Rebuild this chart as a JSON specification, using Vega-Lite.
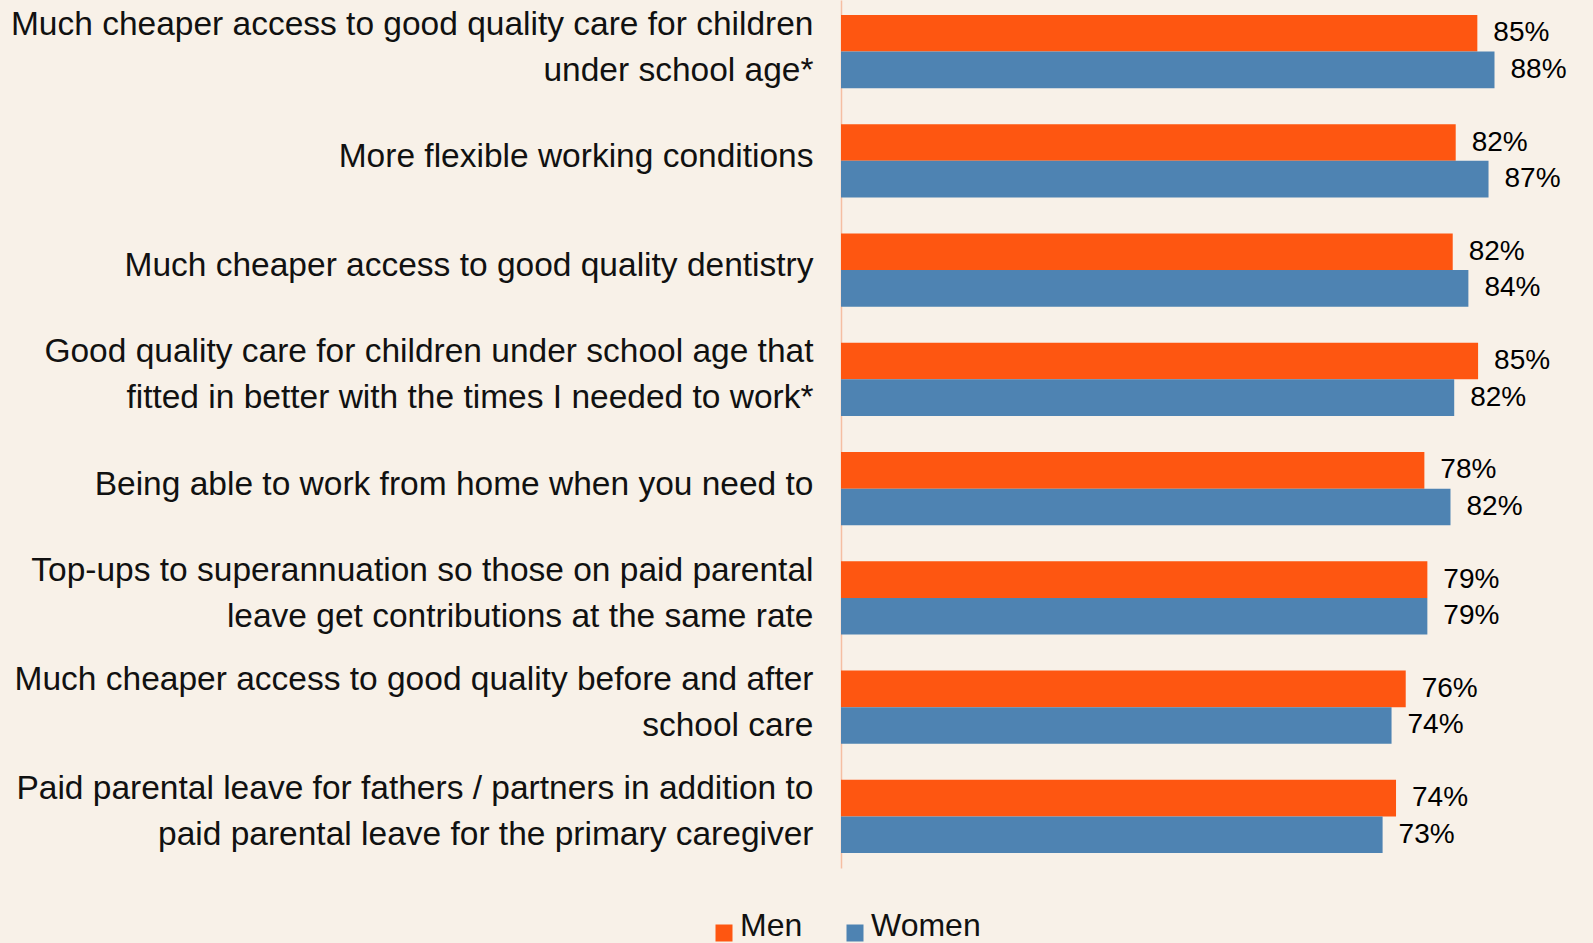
{
  "$schema": "https://vega.github.io/schema/vega-lite/v6.json",
  "width": 746,
  "height": 868,
  "autosize": {"type": "none"},
  "padding": {"left": 841, "top": 0, "right": 6, "bottom": 75},
  "background": "#F8F1E8",
  "config": {"view": {"stroke": null}, "font": "Liberation Sans"},
  "data": {
    "values": [
      {"item": "Much cheaper access to good quality care for children|under school age*", "group": "Men", "pct": 0.853},
      {"item": "Much cheaper access to good quality care for children|under school age*", "group": "Women", "pct": 0.876},
      {"item": "More flexible working conditions", "group": "Men", "pct": 0.824},
      {"item": "More flexible working conditions", "group": "Women", "pct": 0.868},
      {"item": "Much cheaper access to good quality dentistry", "group": "Men", "pct": 0.820},
      {"item": "Much cheaper access to good quality dentistry", "group": "Women", "pct": 0.841},
      {"item": "Good quality care for children under school age that|fitted in better with the times I needed to work*", "group": "Men", "pct": 0.854},
      {"item": "Good quality care for children under school age that|fitted in better with the times I needed to work*", "group": "Women", "pct": 0.822},
      {"item": "Being able to work from home when you need to", "group": "Men", "pct": 0.782},
      {"item": "Being able to work from home when you need to", "group": "Women", "pct": 0.817},
      {"item": "Top-ups to superannuation so those on paid parental|leave get contributions at the same rate", "group": "Men", "pct": 0.786},
      {"item": "Top-ups to superannuation so those on paid parental|leave get contributions at the same rate", "group": "Women", "pct": 0.786},
      {"item": "Much cheaper access to good quality before and after|school care", "group": "Men", "pct": 0.757},
      {"item": "Much cheaper access to good quality before and after|school care", "group": "Women", "pct": 0.738},
      {"item": "Paid parental leave for fathers / partners in addition to|paid parental leave for the primary caregiver", "group": "Men", "pct": 0.744},
      {"item": "Paid parental leave for fathers / partners in addition to|paid parental leave for the primary caregiver", "group": "Women", "pct": 0.726}
    ]
  },
  "encoding": {
    "y": {
      "field": "item",
      "type": "nominal",
      "sort": null,
      "scale": {"paddingInner": 0.329, "paddingOuter": 0.137},
      "axis": {
        "title": null,
        "ticks": false,
        "grid": false,
        "domainColor": "#F5BEA2",
        "domainWidth": 1.5,
        "labelFont": "Liberation Sans",
        "labelFontSize": 33.5,
        "labelColor": "#111111",
        "labelPadding": 28,
        "labelLimit": 1000,
        "labelLineHeight": 46,
        "labelExpr": "split(datum.label, '|')",
        "labelOffset": {"expr": "indexof(datum.value, '|') >= 0 ? -27 : -4"}
      }
    },
    "yOffset": {
      "field": "group",
      "type": "nominal",
      "sort": ["Men", "Women"],
      "scale": {"paddingInner": 0, "paddingOuter": 0}
    },
    "x": {
      "field": "pct",
      "type": "quantitative",
      "scale": {"domain": [0, 1], "nice": false, "zero": true},
      "axis": null
    }
  },
  "layer": [
    {
      "mark": {"type": "bar"},
      "encoding": {
        "color": {
          "field": "group",
          "type": "nominal",
          "scale": {"domain": ["Men", "Women"], "range": ["#FE5611", "#4E83B2"]},
          "legend": {
            "orient": "none",
            "legendX": -133,
            "legendY": 917,
            "direction": "horizontal",
            "title": null,
            "symbolType": "square",
            "symbolSize": 289,
            "symbolStrokeWidth": 0,
            "symbolOpacity": 1,
            "labelFont": "Liberation Sans",
            "labelFontSize": 32,
            "labelColor": "#111111",
            "labelOffset": 0,
            "columnPadding": 36,
            "padding": 0,
            "encode": {
              "labels": {"update": {"dy": {"value": -7}}}
            }
          }
        }
      }
    },
    {
      "mark": {"type": "text", "align": "left", "baseline": "middle", "dx": 16, "fontSize": 28, "font": "Liberation Sans", "color": "#000000"},
      "encoding": {
        "text": {"field": "pct", "type": "quantitative", "format": ".0%"}
      }
    }
  ]
}
